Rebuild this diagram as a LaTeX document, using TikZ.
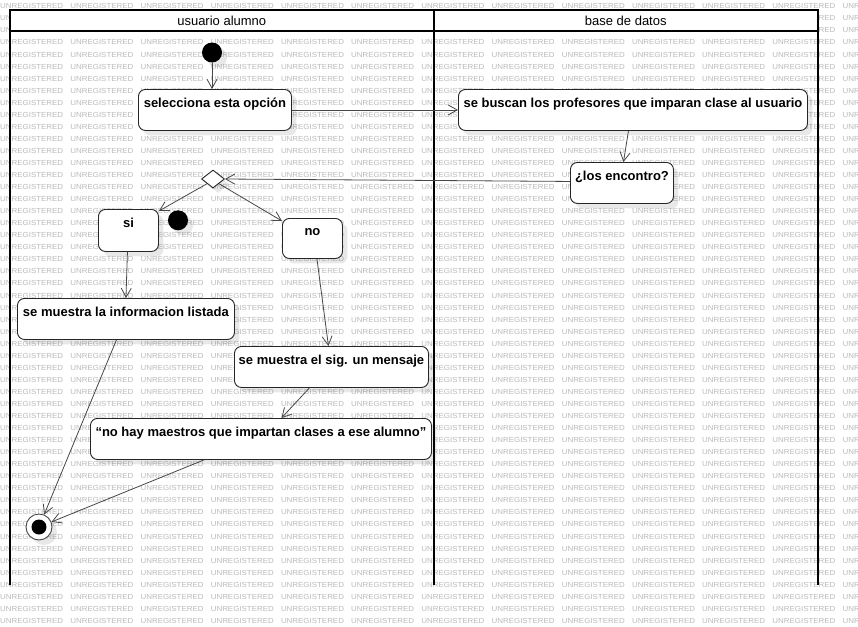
\documentclass[tikz,border=0pt]{standalone}
\usepackage{fontspec}
\setmainfont{Liberation Sans}
\usetikzlibrary{arrows.meta,shapes.geometric,shadows}
\begin{document}
\begin{tikzpicture}[x=1pt,y=-1pt,
  lane/.style={line width=2pt, draw=black, line join=miter},
  soft/.style={drop shadow={shadow xshift=5pt, shadow yshift=-5pt, opacity=0.09, fill=black}},
  act/.style={draw=black!85, line width=0.9pt, fill=white, rounded corners=7pt,
    anchor=north west, inner xsep=0pt, inner ysep=0pt, text height=18pt,
    font=\bfseries\fontsize{13}{15}\selectfont, soft},
  hdr/.style={inner sep=0pt, font=\fontsize{13}{15}\selectfont},
  flow/.style={draw=black!72, line width=0.8pt, -{Straight Barb[length=9pt,width=10pt]}},
  wm/.style={anchor=west, inner sep=0pt, text=black!27, xscale=1.086,
    font=\fontsize{7.3}{8}\selectfont},
  dot/.style={circle, fill=black, inner sep=0pt, minimum size=20pt, soft},
  decision/.style={diamond, draw=black!85, fill=white, line width=0.9pt, inner sep=0pt,
    minimum width=23pt, minimum height=18pt, aspect=1.28, soft},
  endnode/.style={circle, draw=black!72, line width=0.9pt, fill=white, inner sep=0pt,
    minimum size=26pt, soft}
]
\useasboundingbox (0,0) rectangle (858,626);
\fill[white] (0,0) rectangle (858,626);

% background stamp text
\foreach \j in {0,...,51}
  \foreach \i in {0,...,12}
    \node[wm] (wm-\i-\j) at ({70.2*\i},{6.3+12.05*\j}) {UNREGISTERED};

% swimlanes
\fill[white] (10,10) rectangle (818,31);
\draw[lane] (10,585) -- (10,10) -- (818,10) -- (818,585);
\draw[lane] (10,31) -- (818,31);
\draw[lane] (433.5,10) -- (433.5,585);
\node[hdr] (lane1) at (221.75,20.5) {usuario alumno};
\node[hdr] (lane2) at (625.75,20.5) {base de datos};

% activities
\node[dot] (ini) at (212,52.5) {};
\node[act, minimum width=153pt, text depth=23pt] (sel) at (138,89) {selecciona esta opción};
\node[act, minimum width=349pt, text depth=23pt] (bus) at (458,89) {se buscan los profesores que imparan clase al usuario};
\node[act, minimum width=103pt, text depth=23pt] (enc) at (570,162) {¿los encontro?};
\node[decision] (dec) at (213,179) {};
\node[act, minimum width=60pt, text depth=24pt] (si) at (98,209) {si};
\node[dot] (blk) at (178,220.3) {};
\node[act, minimum width=60pt, text depth=23pt, text height=17pt] (no) at (282,218) {no};
\node[act, minimum width=217pt, text depth=23pt] (inf) at (17,298) {se muestra la informacion listada};
\node[act, minimum width=194pt, text depth=23pt] (men) at (234,346) {se muestra el sig. un mensaje};
\node[act, minimum width=341pt, text depth=23pt] (nohay) at (90,418) {“no hay maestros que impartan clases a ese alumno”};
\node[endnode] (fin) at (39,527) {};
\fill[black] (fin.center) circle (7.5pt);

% transitions
\draw[flow] (ini) -- (ini |- sel.north);
\draw[flow] (sel.east) -- (bus.west);
\draw[flow] ([xshift=-4.5pt]bus.south) -- ([xshift=1.5pt]enc.north);
\draw[flow] ([yshift=1.5pt]enc.west) -- (dec.east);
\draw[flow] (dec.south west) -- ([yshift=-2pt]si.north east);
\draw[flow] (dec.south east) -- ([yshift=-3pt]no.north west);
\draw[flow] ([xshift=-1pt]si.south) -- (inf.north);
\draw[flow] ([xshift=4.5pt]no.south) -- ([xshift=-3pt]men.north);
\draw[flow] ([xshift=-22pt]men.south) -- ([xshift=20.5pt]nohay.north);
\draw[flow] ([xshift=-9.5pt]inf.south) -- (fin);
\draw[flow] ([xshift=-57pt]nohay.south) -- (fin);
\end{tikzpicture}
\end{document}
